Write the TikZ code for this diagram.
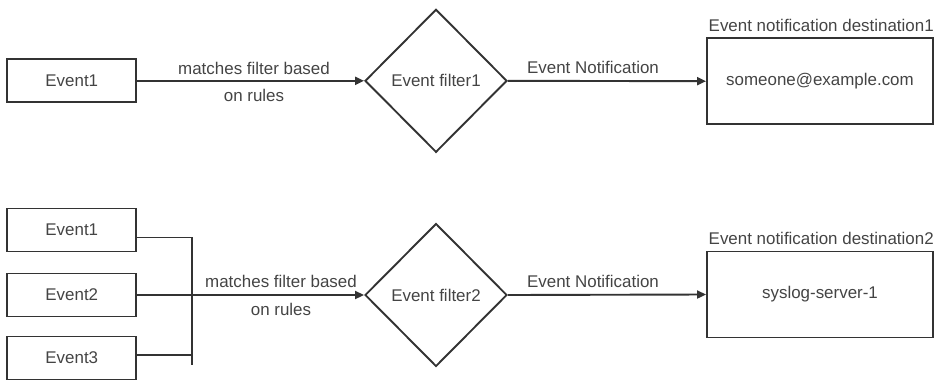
\documentclass[tikz,border=0pt]{standalone}
\usepackage{fontspec}
\setmainfont{Liberation Sans}
\usetikzlibrary{shapes.geometric,arrows.meta,calc}
\definecolor{linec}{HTML}{333333}
\definecolor{textc}{HTML}{444444}
\tikzset{
  evbox/.style={draw=linec, line width=1.9bp, minimum width=129bp, minimum height=43bp, inner sep=0pt, text=textc, font=\fontsize{17}{20}\selectfont},
  destbox/.style={draw=linec, line width=1.9bp, minimum width=226bp, minimum height=86bp, inner sep=0pt, text=textc, font=\fontsize{17}{20}\selectfont},
  filt/.style={diamond, draw=linec, line width=1.9bp, minimum width=142bp, minimum height=143bp, inner sep=0pt, text=textc, font=\fontsize{17}{20}\selectfont},
  conn/.style={draw=linec, line width=1.9bp},
  arr/.style={conn, -{Triangle[length=9bp,width=8bp]}},
  lbl/.style={text=textc, inner sep=0pt, font=\fontsize{17}{27.5}\selectfont, align=center},
}
\begin{document}
\begin{tikzpicture}[x=1bp,y=-1bp]
\useasboundingbox (0,0) rectangle (934,379);
\clip (0,0) rectangle (934,379);
% top row
\node[evbox] (a1) at (71.8,80.8) {Event1};
\node[filt] (f1) at (436,80.8) {Event filter1};
\node[destbox] (d1) at (820,81.2) {someone@example.com};
\node[lbl, anchor=base west] (dl1) at (708.5,31) {Event notification destination1};
\draw[arr] (a1) -- (f1.west);
\draw[arr] (f1.east) -- (d1.west);
\node[lbl, anchor=base] (m1) at (254,101.5) {matches filter based\\on rules};
\node[lbl, anchor=base] (n1) at (593,73) {Event Notification};
% bottom row
\node[evbox] (b1) at (71.8,230) {Event1};
\node[evbox] (b2) at (71.8,295) {Event2};
\node[evbox] (b3) at (71.8,358) {Event3};
\node[filt] (f2) at (436,295) {Event filter2};
\node[destbox] (d2) at (820,294.5) {syslog-server-1};
\node[lbl, anchor=base west] (dl2) at (708.5,244) {Event notification destination2};
\coordinate (j1) at (192,237.5);
\coordinate (j3) at (192,355);
\coordinate (jb) at (192,365);
\draw[conn] (b1.east |- j1) -- (j1) -- (jb);
\draw[conn] (b3.east |- j3) -- (j3);
\draw[arr] (b2) -- (f2.west);
\draw[arr] (f2.east) -- (d2.west);
\node[lbl, anchor=base] (m2) at (281,315) {matches filter based\\on rules};
\node[lbl, anchor=base] (n2) at (593,287) {Event Notification};
\end{tikzpicture}
\end{document}
